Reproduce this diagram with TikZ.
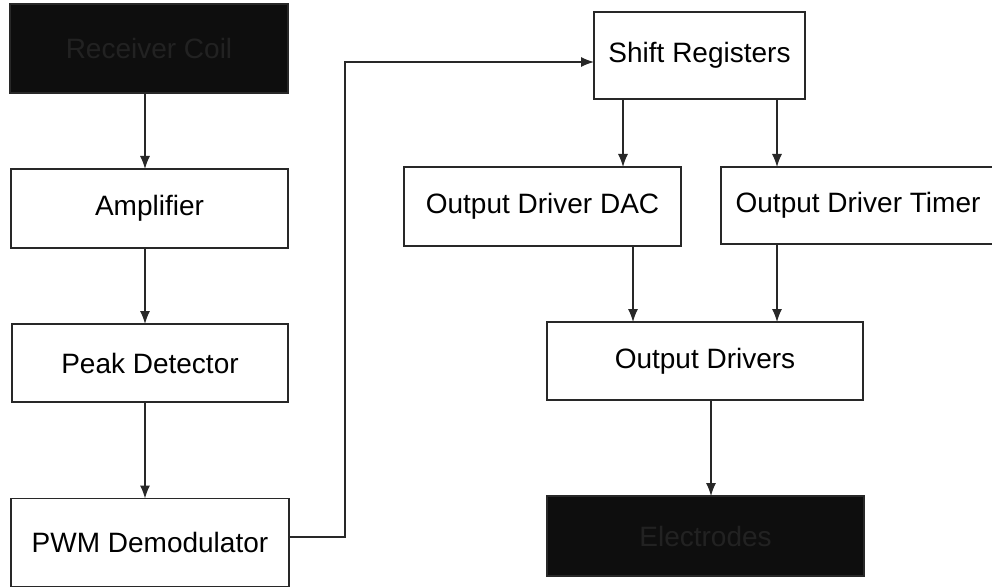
\documentclass[tikz,border=0pt]{standalone}
\usepackage{fontspec}
\setmainfont{Liberation Sans}
\usetikzlibrary{arrows.meta,calc}
\definecolor{boxfill}{RGB}{14,14,14}
\definecolor{darktext}{RGB}{34,34,34}
\definecolor{linecol}{RGB}{40,40,40}
\tikzset{
  blk/.style={draw=linecol, line width=1.3pt, fill=white, inner sep=0pt, outer sep=0pt,
    font=\fontsize{28}{32}\selectfont, text=black},
  darkblk/.style={blk, fill=boxfill, text=darktext},
  conn/.style={draw=linecol, line width=1.3pt, -{Latex[length=13pt,width=10pt]}},
}
\begin{document}
\begin{tikzpicture}[x=1pt,y=-1pt]
\clip (0,0) rectangle (992,588);
\fill[white] (0,0) rectangle (992,588);
% left column
\node[darkblk, minimum width=278pt, minimum height=89pt] (coil) at (149,48.5) {Receiver Coil};
\node[blk, minimum width=277pt, minimum height=79pt] (amp) at (149.5,208.5) {Amplifier};
\node[blk, minimum width=276pt, minimum height=78pt] (peak) at (150,363) {Peak Detector};
\node[blk, minimum width=278pt, minimum height=88pt] (pwm) at (150,542.5) {PWM Demodulator};
% right part
\node[blk, minimum width=211pt, minimum height=87pt] (shift) at (699.5,55.5) {Shift Registers};
\node[blk, minimum width=277pt, minimum height=79pt] (dac) at (542.5,206.5) {Output Driver DAC};
\node[blk, minimum width=274pt, minimum height=77pt] (timer) at (858,205.5) {Output Driver Timer};
\node[blk, minimum width=316pt, minimum height=78pt] (drv) at (705,361) {Output Drivers};
\node[darkblk, minimum width=317pt, minimum height=80pt] (elec) at (705.5,536) {Electrodes};
% connectors
\draw[conn] (coil.south -| 145,0) -- (amp.north -| 145,0);
\draw[conn] (amp.south -| 145,0) -- (peak.north -| 145,0);
\draw[conn] (peak.south -| 145,0) -- (pwm.north -| 145,0);
\coordinate (bendA) at (345,537);
\coordinate (bendB) at (345,62);
\draw[conn] (pwm.east |- bendA) -- (bendA) -- (bendB) -- (shift.west |- bendB);
\draw[conn] (shift.south -| 623,0) -- (dac.north -| 623,0);
\draw[conn] (shift.south -| 777,0) -- (timer.north -| 777,0);
\draw[conn] (dac.south -| 633,0) -- (drv.north -| 633,0);
\draw[conn] (timer.south -| 777,0) -- (drv.north -| 777,0);
\draw[conn] (drv.south -| 711,0) -- (elec.north -| 711,0);
\end{tikzpicture}
\end{document}
